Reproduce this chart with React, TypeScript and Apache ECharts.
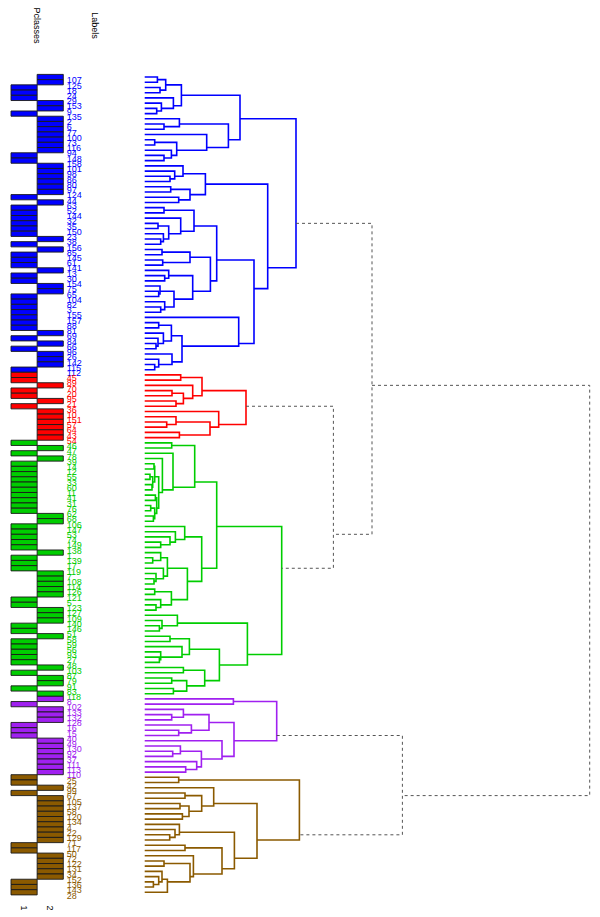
import React, { useEffect, useRef } from "react";
import * as echarts from "echarts";

// ---- cluster colours (blue, red, green, purple, brown) ----
const CLUSTER_COLORS = ["#0000FF", "#FF0000", "#00CD00", "#A020F0", "#8B5A00"];
const DASH_COLOR = "#555555";

// ---- dendrogram: "(left,right)height", "." = next leaf in order ----
const BLUE_A = "(((.,.)12.7,(.,.)15.3)21,(.,(.,(.,.)12)16.7)28.7)36.7";
const BLUE_B = "((.,(.,.)19.3)34.7,(.,((.,.)10,(.,(.,.)19.3)26.7)32)62)83.7";
const BLUE_C = "((.,(.,(.,.)25.3)30)38.3,((.,.)26,(.,.)34)45.3)60.7";
const BLUE_D = "((.,.)19.3,(.,((.,.)13.3,(.,(.,.)16)18.7)24)36)49.3";
const BLUE_E = "(((.,.)17.3,(.,.)18)45.3,((.,(.,.)20)24,((.,(.,.)14)15.3,(.,(.,.)16)20)29.3)48)65.7";
const BLUE_F = "(.,(((.,.)14,(.,(.,(.,.)11.3)13.3)18.7)26.7,(.,(.,(.,.)10)14)27.3)37.3)94";
const BLUE_TREE = `((${BLUE_A},${BLUE_B})95.3,(${BLUE_C},((${BLUE_D},${BLUE_E})72,${BLUE_F})109.3)123)151.3`;

const RED_TREE = "(((.,.)36,(.,((.,.)27.3,(.,.)31.3)38.7)48)57.3,(.,((.,(.,.)22)31.3,(.,.)34.7)65.3)74)101.3";

const GREEN_1A = "((.,.)27,(.,(.,(((.,.)9.3,((.,.)5.3,(.,.)7.3)8)10,((.,.)10.7,((.,.)6,(.,.)8.7)10)12)14)17.7)28.3)50";
const GREEN_1B = "((.,(.,(.,(.,.)16)25.3)30.7)40,(((.,(.,.)8)16,(.,(.,(.,.)9.3)11.3)18.7)22.7,((.,.)10,(.,(.,.)11.3)16)26.7)42.7)57";
const GREEN_2 = "((.,(.,(.,.)14.7)17.3)32.7,(((.,.)25.3,(.,(.,(.,.)14.7)16)37.3)44.7,((.,.)38.7,((.,.)27,(.,.)28.7)42)60)74.7)102.7";
const GREEN_TREE = `((${GREEN_1A},${GREEN_1B})72,${GREEN_2})137`;

const PURPLE_TREE = "((.,.)88.7,(((.,(.,.)27)38.7,(.,(.,.)34)46.7)64.3,(.,((.,(.,.)28)35.7,(.,(.,.)41)52)56.7)77.3)89.3)132";

const BROWN_TREE = "((.,.)34,((.,((.,.)40.3,((.,.)35.3,(.,.)37.7)44.3)57)69,((.,(.,(.,.)25)30.3)34.7,((.,.)40.3,(.,((.,.)19.3,((.,(.,(.,.)8.7)14)17.3,.)22.7)45.3)48.7)77.3)89.7)112.3)154.7";

// top level (dashed): B=blue, R=red, G=green, P=purple, N=brown
const TOP_TREE = "((B,(R,G)188.7)227.3,(P,N)257.7)445";
const CLUSTER_KEYS = ["B", "R", "G", "P", "N"];
const CLUSTER_TREES = [BLUE_TREE, RED_TREE, GREEN_TREE, PURPLE_TREE, BROWN_TREE];

// ---- Pclass of each leaf (1 or 2), in leaf order ----
const PCLASS = [
  2, 2, 1, 1, 1, 2, 2, 1, 2, 2, 2, 2, 2, 2, 2, 1, 1, 2, 2, 2, 2, 2, 2, 1, 2, 1, 1, 1, 1, 1,
  1, 2, 1, 2, 1, 1, 1, 2, 1, 1, 2, 2, 1, 1, 1, 1, 1, 1, 1, 2, 1, 2, 1, 2, 2, 2, 1,
  1, 1, 2, 1, 1, 2, 1, 2, 2, 2, 2, 2, 2,
  1, 2, 1, 2, 1, 1, 1, 1, 1, 1, 1, 1, 1, 1, 2, 2, 1, 1, 1, 1, 1, 2, 1, 1, 1, 2, 2, 2, 2, 2,
  1, 1, 2, 2, 2, 1, 1, 2, 1, 1, 1, 1, 1, 2, 1, 2, 2, 1, 2,
  2, 1, 2, 2, 2, 1, 1, 1, 2, 2, 2, 2, 2, 2, 2,
  1, 1, 2, 1, 2, 2, 2, 2, 2, 2, 2, 2, 2, 1, 1, 2, 2, 2, 2, 2, 1, 1, 1,
];

// ---- leaf labels, in leaf order ----
const LABELS = [
  "107", "125", "18", "24", "29", "153", "9", "135", "2", "6", "77", "100", "73", "116", "94", "148", "158", "101", "98", "86",
  "80", "97", "124", "44", "63", "52", "144", "32", "35", "150", "23", "38", "156", "85", "145", "61", "141", "13", "30", "154",
  "75", "65", "104", "82", "3", "155", "157", "88", "81", "69", "84", "66", "96", "26", "142", "115", "112",
  "45", "89", "70", "20", "95", "21", "36", "10", "151", "57", "64", "43", "54",
  "46", "47", "78", "39", "14", "12", "55", "33", "60", "11", "41", "31", "76", "62", "68", "106", "147", "53", "74", "149",
  "138", "1", "139", "17", "119", "7", "108", "114", "126", "121", "5", "123", "127", "109", "140", "146", "51", "58", "59", "56",
  "93", "27", "48", "103", "87", "79", "91", "83", "118",
  "8", "102", "133", "132", "128", "16", "15", "40", "49", "130", "92", "37", "111", "113", "110",
  "25", "42", "99", "67", "105", "137", "58", "120", "134", "4", "22", "129", "71", "117", "50", "72", "122", "131", "34", "152",
  "136", "143", "28",
];

const HEADER_TEXTS = ["Pclasses", "Labels"];
const COLUMN_TEXTS = ["1", "2"];

type TNode = { leaf?: number; h: number; kids?: TNode[]; cluster: number };

function buildTree() {
  const counter = { n: 0 };
  const leafCluster: number[] = [];
  function parse(s: string, cluster: number): TNode {
    let pos = 0;
    function node(): TNode {
      const ch = s[pos];
      if (ch === ".") {
        pos++;
        leafCluster[counter.n] = cluster;
        return { leaf: counter.n++, h: 0, cluster };
      }
      const ci = CLUSTER_KEYS.indexOf(ch);
      if (ci >= 0) {
        pos++;
        return parse(CLUSTER_TREES[ci], ci);
      }
      pos++; // "("
      const a = node();
      pos++; // ","
      const b = node();
      pos++; // ")"
      let num = "";
      while (pos < s.length && /[0-9.]/.test(s[pos])) num += s[pos++];
      return { kids: [a, b], h: parseFloat(num), cluster };
    }
    return node();
  }
  const root = parse(TOP_TREE, -1);
  const segs: number[][] = [];
  function lay(n: TNode): { y: number; sum: number; cnt: number } {
    if (n.leaf !== undefined) return { y: n.leaf, sum: n.leaf, cnt: 1 };
    const a = lay(n.kids![0]);
    const b = lay(n.kids![1]);
    segs.push([n.kids![0].h, a.y, n.h, b.y, n.kids![1].h, n.cluster]);
    const sum = a.sum + b.sum;
    const cnt = a.cnt + b.cnt;
    return { y: sum / cnt, sum, cnt };
  }
  lay(root);
  return { segs, leafCluster, nLeaves: counter.n };
}

export default function App() {
  const ref = useRef<HTMLDivElement>(null);
  useEffect(() => {
    if (!ref.current) return;
    const chart = echarts.init(ref.current, undefined, { renderer: "svg" });
    const { segs, leafCluster, nLeaves } = buildTree();
    const top = 74.4;
    const height = 820.5;
    const yAxisBase = {
      type: "value" as const,
      min: -0.5,
      max: nLeaves - 0.5,
      inverse: true,
      show: false,
    };
    const barData = PCLASS.map((c, i) => [c, i, leafCluster[i]]);
    const labelData = LABELS.map((_, i) => [2, i, leafCluster[i]]);
    const font = "Liberation Sans, Arial, Helvetica, sans-serif";

    chart.setOption({
      animation: false,
      backgroundColor: "#ffffff",
      grid: [
        { left: 144.7, width: 445, top, height },
        { left: 11, width: 52.3, top, height },
      ],
      xAxis: [
        { type: "value", gridIndex: 0, min: 0, max: 445, show: false },
        { type: "value", gridIndex: 1, min: 0, max: 2, show: false },
      ],
      yAxis: [
        { ...yAxisBase, gridIndex: 0 },
        { ...yAxisBase, gridIndex: 1 },
      ],
      graphic: [
        {
          type: "text", x: 36.7, y: 25.5, rotation: -Math.PI / 2,
          style: { text: HEADER_TEXTS[0], fill: "#000", font: `9px ${font}`, textAlign: "center", textVerticalAlign: "middle" },
        },
        {
          type: "text", x: 95, y: 25.5, rotation: -Math.PI / 2,
          style: { text: HEADER_TEXTS[1], fill: "#000", font: `9px ${font}`, textAlign: "center", textVerticalAlign: "middle" },
        },
        {
          type: "text", x: 23.5, y: 908, rotation: -Math.PI / 2,
          style: { text: COLUMN_TEXTS[0], fill: "#000", font: `9px ${font}`, textAlign: "center", textVerticalAlign: "middle" },
        },
        {
          type: "text", x: 50, y: 908, rotation: -Math.PI / 2,
          style: { text: COLUMN_TEXTS[1], fill: "#000", font: `9px ${font}`, textAlign: "center", textVerticalAlign: "middle" },
        },
      ],
      series: [
        {
          type: "custom",
          xAxisIndex: 0,
          yAxisIndex: 0,
          data: segs,
          silent: true,
          renderItem: (params: any, api: any) => {
            const p1 = api.coord([api.value(0), api.value(1)]);
            const p2 = api.coord([api.value(2), api.value(1)]);
            const p3 = api.coord([api.value(2), api.value(3)]);
            const p4 = api.coord([api.value(4), api.value(3)]);
            const c = api.value(5);
            const dashed = c < 0;
            return {
              type: "polyline",
              shape: { points: [p1, p2, p3, p4] },
              style: {
                stroke: dashed ? DASH_COLOR : CLUSTER_COLORS[c],
                lineWidth: dashed ? 1 : 1.6,
                lineDash: dashed ? [3, 3] : null,
                fill: "none",
                lineJoin: "miter",
              },
            };
          },
        },
        {
          type: "custom",
          xAxisIndex: 1,
          yAxisIndex: 1,
          data: barData,
          silent: true,
          renderItem: (params: any, api: any) => {
            const col = api.value(0);
            const i = api.value(1);
            const a = api.coord([col - 1, i - 0.5]);
            const b = api.coord([col, i + 0.5]);
            return {
              type: "rect",
              shape: { x: a[0], y: a[1], width: b[0] - a[0], height: b[1] - a[1] },
              style: { fill: CLUSTER_COLORS[api.value(2)], stroke: "#1a1a1a", lineWidth: 0.9 },
            };
          },
        },
        {
          type: "custom",
          xAxisIndex: 1,
          yAxisIndex: 1,
          data: labelData,
          silent: true,
          renderItem: (params: any, api: any) => {
            const i = api.value(1);
            const p = api.coord([api.value(0), i]);
            return {
              type: "text",
              x: p[0] + 3.4,
              y: p[1] + 3.3,
              style: {
                text: LABELS[params.dataIndex],
                fill: CLUSTER_COLORS[api.value(2)],
                font: `9px ${font}`,
                textAlign: "left",
                textVerticalAlign: "middle",
              },
            };
          },
        },
      ],
    });
    return () => chart.dispose();
  }, []);
  return (
    <div
      ref={ref}
      style={{ position: "fixed", left: 0, top: 0, width: 600, height: 917, background: "#fff" }}
    />
  );
}
